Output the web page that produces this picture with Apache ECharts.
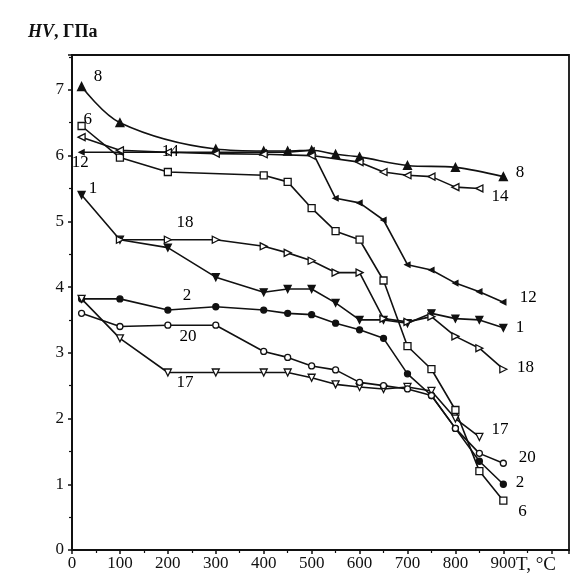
<!DOCTYPE html>
<html>
<head>
<meta charset="utf-8">
<script src="https://cdn.jsdelivr.net/npm/echarts@6/dist/echarts.min.js"></script>
<style>
html,body{margin:0;padding:0;background:#fff;}
#chart{width:575px;height:578px;}
</style>
</head>
<body>
<div id="chart"></div>
<script>
// Data: [T (°C), HV (GPa)]
var s1  = [[20,5.4],[100,4.72],[200,4.6],[300,4.15],[400,3.92],[450,3.97],[500,3.97],[550,3.76],[600,3.5],[650,3.5],[700,3.45],[750,3.6],[800,3.52],[850,3.5],[900,3.38]];
var s2  = [[20,3.82],[100,3.82],[200,3.65],[300,3.7],[400,3.65],[450,3.6],[500,3.58],[550,3.45],[600,3.35],[650,3.22],[700,2.68],[750,2.35],[800,1.85],[850,1.35],[900,1.0]];
var s6  = [[20,6.45],[100,5.97],[200,5.75],[400,5.7],[450,5.6],[500,5.2],[550,4.85],[600,4.72],[650,4.1],[700,3.1],[750,2.75],[800,2.13],[850,1.2],[900,0.75]];
var s8  = [[20,7.05],[100,6.5],[300,6.1],[400,6.07],[450,6.07],[500,6.08],[550,6.02],[600,5.98],[700,5.85],[800,5.82],[900,5.68]];
var s12 = [[20,6.05],[100,6.05],[200,6.05],[300,6.05],[400,6.05],[450,6.05],[500,6.08],[550,5.35],[600,5.28],[650,5.02],[700,4.34],[750,4.26],[800,4.06],[850,3.93],[900,3.77]];
var s14 = [[20,6.28],[100,6.08],[200,6.05],[300,6.03],[400,6.02],[500,6.0],[600,5.9],[650,5.75],[700,5.7],[750,5.68],[800,5.52],[850,5.5]];
var s17 = [[20,3.82],[100,3.22],[200,2.7],[300,2.7],[400,2.7],[450,2.7],[500,2.62],[550,2.52],[600,2.48],[650,2.45],[700,2.48],[750,2.42],[800,2.0],[850,1.72]];
var s18 = [[100,4.72],[200,4.72],[300,4.72],[400,4.62],[450,4.52],[500,4.4],[550,4.22],[600,4.22],[650,3.52],[700,3.47],[750,3.55],[800,3.25],[850,3.07],[900,2.75]];
var s20 = [[20,3.6],[100,3.4],[200,3.42],[300,3.42],[400,3.02],[450,2.93],[500,2.8],[550,2.74],[600,2.55],[650,2.5],[700,2.45],[750,2.35],[800,1.85],[850,1.47],[900,1.32]];

// Curve number labels: [text, T, HV]
var curveLabels = [
  ['8',54,7.2],['8',935,5.74],
  ['6',33,6.55],['6',940,0.58],
  ['14',205,6.06],['14',893,5.37],
  ['12',17,5.9],['12',952,3.84],
  ['1',44,5.5],['1',935,3.39],
  ['18',236,4.98],['18',946,2.77],
  ['2',240,3.87],['2',935,1.03],
  ['20',242,3.24],['20',950,1.4],
  ['17',236,2.54],['17',893,1.83]
];

var xTicksMax = 900;
var yTicksMax = 7;

var FONT = '"Liberation Serif","DejaVu Serif",serif';
var INK = '#111';

function line(name, data, symbol, rotate, filled, size, smooth) {
  return {
    name: name, type: 'line', data: data, smooth: smooth ? 0.35 : false,
    symbol: symbol, symbolRotate: rotate, symbolSize: size,
    showAllSymbol: true,
    lineStyle: {color: INK, width: 1.6},
    itemStyle: {color: filled ? INK : '#fff', borderColor: INK, borderWidth: 1.3},
    z: 3, animation: false
  };
}

var chart = echarts.init(document.getElementById('chart'), null, {renderer: 'canvas'});
chart.setOption({
  backgroundColor: '#fff',
  animation: false,
  grid: {left: 72, right: 6, top: 55, bottom: 28, show: true, borderColor: INK, borderWidth: 1.8},
  xAxis: {
    type: 'value', min: 0, max: 1037, interval: 100,
    axisLine: {show: true, onZero: false, lineStyle: {color: INK, width: 2}},
    axisTick: {show: true, length: 4, lineStyle: {color: INK, width: 1.5}},
    minorTick: {show: true, splitNumber: 2, length: 3, lineStyle: {color: INK, width: 1.2}},
    splitLine: {show: false},
    axisLabel: {
      color: INK, fontFamily: FONT, fontSize: 17, margin: 5,
      formatter: function (v) { return (v <= xTicksMax && v % 100 === 0) ? String(v) : ''; }
    }
  },
  yAxis: {
    type: 'value', min: 0, max: 7.53, interval: 1,
    axisLine: {show: true, onZero: false, lineStyle: {color: INK, width: 2}},
    axisTick: {show: true, length: 4, lineStyle: {color: INK, width: 1.5}},
    minorTick: {show: true, splitNumber: 2, length: 3, lineStyle: {color: INK, width: 1.2}},
    splitLine: {show: false},
    axisLabel: {
      color: INK, fontFamily: FONT, fontSize: 17, margin: 8,
      formatter: function (v) { return (v <= yTicksMax && Math.abs(v - Math.round(v)) < 1e-9) ? String(Math.round(v)) : ''; }
    }
  },
  graphic: [
    {type: 'text', left: 28, top: 23, style: {
      text: '{a|HV}{b|, ГПа}',
      rich: {
        a: {fontFamily: FONT, fontSize: 18, fontWeight: 'bold', fontStyle: 'italic', fill: INK},
        b: {fontFamily: FONT, fontSize: 18, fontWeight: 'bold', fill: INK}
      }
    }},
    {type: 'text', left: 516, top: 556, style: {
      text: 'T, °C', fontFamily: FONT, fontSize: 19, fill: INK
    }}
  ],
  series: [
    line('1', s1, 'triangle', 180, true, 7),
    line('2', s2, 'circle', 0, true, 6),
    line('6', s6, 'rect', 0, false, 7),
    line('8', s8, 'triangle', 0, true, 8, true),
    line('12', s12, 'triangle', 90, true, 5),
    line('14', s14, 'triangle', 90, false, 7),
    line('17', s17, 'triangle', 180, false, 7),
    line('18', s18, 'triangle', -90, false, 7),
    line('20', s20, 'circle', 0, false, 6),
    {
      type: 'scatter', name: 'labels', symbolSize: 0, z: 5, silent: true,
      itemStyle: {opacity: 1},
      data: curveLabels.map(function (d) { return {value: [d[1], d[2]], name: d[0]}; }),
      label: {show: true, position: 'inside', formatter: function (p) { return p.name; },
        fontFamily: FONT, fontSize: 17, color: '#000', opacity: 1}
    }
  ]
});
</script>
</body>
</html>
